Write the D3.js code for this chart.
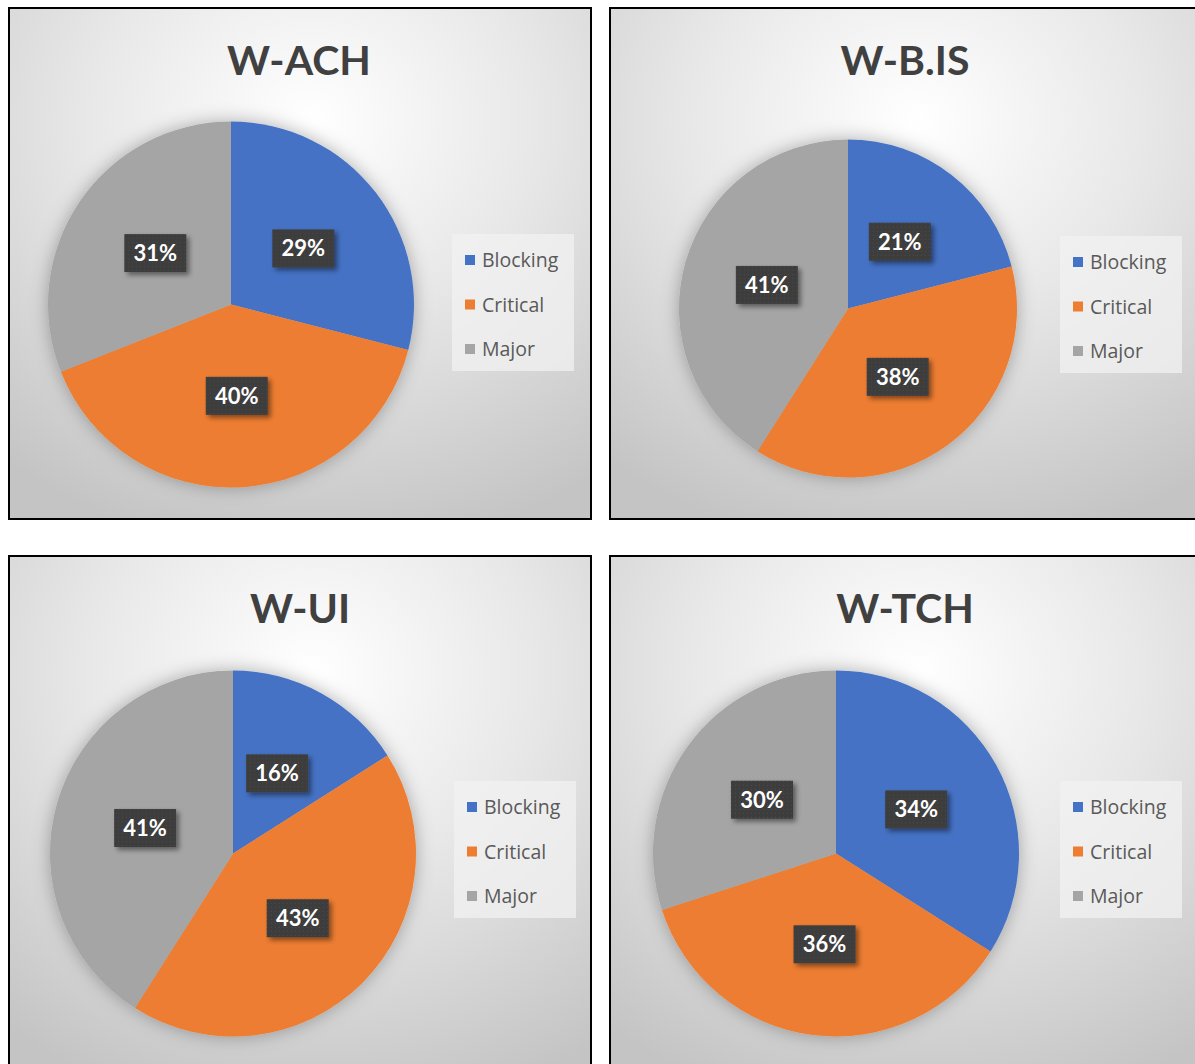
<!DOCTYPE html>
<html>
<head>
<meta charset="utf-8">
<script src="https://cdn.jsdelivr.net/npm/d3@7"></script>
<style>
  html, body { margin: 0; padding: 0; background: #ffffff; }
  svg { display: block; }
  text { font-family: Lato, "Open Sans", sans-serif; }
</style>
</head>
<body>
<svg id="chart" width="1195" height="1064"></svg>
<script>
// Defect severity split per work area
const chartTitles = ["W-ACH", "W-B.IS", "W-UI", "W-TCH"];
const categories = ["Blocking", "Critical", "Major"];
const achValues = [29, 40, 31];
const bisValues = [21, 38, 41];
const uiValues  = [16, 43, 41];
const tchValues = [34, 36, 30];
const seriesValues = [achValues, bisValues, uiValues, tchValues];
const colors = ["#4472C4", "#ED7D31", "#A5A5A5"];

// Panel frames, pie placement and legend placement
const panels = [
  { x: 9,   y: 8,   w: 582, h: 511, cx: 231, cy: 304.5, r: 183, titleX: 299, titleY: 75,  legX: 452,  legY: 234 },
  { x: 610, y: 8,   w: 590, h: 511, cx: 848, cy: 308.5, r: 169, titleX: 905, titleY: 75,  legX: 1060, legY: 236 },
  { x: 9,   y: 556, w: 582, h: 530, cx: 233, cy: 853.5, r: 183, titleX: 300, titleY: 623, legX: 454,  legY: 781 },
  { x: 610, y: 556, w: 590, h: 530, cx: 836, cy: 853.5, r: 183, titleX: 905, titleY: 623, legX: 1060, legY: 781 }
];

const svg = d3.select("#chart");
const defs = svg.append("defs");

// Radial background fill of each chart area
const bg = defs.append("radialGradient")
  .attr("id", "bgGrad")
  .attr("cx", "52%").attr("cy", "22%").attr("r", "85%")
  .attr("fx", "52%").attr("fy", "22%");
bg.append("stop").attr("offset", "0%").attr("stop-color", "#ffffff");
bg.append("stop").attr("offset", "45%").attr("stop-color", "#e8e8e8");
bg.append("stop").attr("offset", "100%").attr("stop-color", "#c4c4c4");

// Soft halo behind the pies
const pieShadow = defs.append("filter").attr("id", "pieShadow")
  .attr("x", "-20%").attr("y", "-20%").attr("width", "140%").attr("height", "140%");
pieShadow.append("feDropShadow")
  .attr("dx", 0).attr("dy", 0).attr("stdDeviation", 9)
  .attr("flood-color", "#000").attr("flood-opacity", 0.3);

// Shadow below the data label boxes
const labelShadow = defs.append("filter").attr("id", "labelShadow")
  .attr("x", "-30%").attr("y", "-30%").attr("width", "170%").attr("height", "180%");
labelShadow.append("feDropShadow")
  .attr("dx", 3).attr("dy", 3).attr("stdDeviation", 2.5)
  .attr("flood-color", "#000").attr("flood-opacity", 0.45);

// Fine dotted texture used on the label boxes
const dots = defs.append("pattern").attr("id", "dots")
  .attr("width", 4).attr("height", 4).attr("patternUnits", "userSpaceOnUse");
dots.append("rect").attr("width", 4).attr("height", 4).attr("fill", "#3c3c3c");
dots.append("rect").attr("x", 1).attr("y", 1).attr("width", 1).attr("height", 1).attr("fill", "#4d4d4d");

const color = d3.scaleOrdinal().domain(categories).range(colors);

panels.forEach((p, i) => {
  const values = seriesValues[i];
  const data = categories.map((c, k) => ({ category: c, value: values[k] }));
  const total = d3.sum(values);

  const g = svg.append("g");

  g.append("rect")
    .attr("x", p.x).attr("y", p.y).attr("width", p.w).attr("height", p.h)
    .attr("fill", "url(#bgGrad)")
    .attr("stroke", "#000").attr("stroke-width", 2);

  g.append("text")
    .attr("x", p.titleX).attr("y", p.titleY)
    .attr("text-anchor", "middle")
    .attr("font-size", 41).attr("font-weight", 700)
    .attr("fill", "#404040")
    .text(chartTitles[i]);

  const pie = d3.pie().sort(null).value(d => d.value);
  const arcs = pie(data);
  const arc = d3.arc().innerRadius(0).outerRadius(p.r);
  const labelArc = d3.arc().innerRadius(p.r * 0.5).outerRadius(p.r * 0.5);

  const pieG = g.append("g").attr("transform", `translate(${p.cx},${p.cy})`);
  pieG.append("g").attr("filter", "url(#pieShadow)")
    .selectAll("path").data(arcs).join("path")
    .attr("d", arc)
    .attr("fill", d => color(d.data.category));

  const lbl = pieG.selectAll("g.lbl").data(arcs).join("g")
    .attr("class", "lbl")
    .attr("transform", d => `translate(${labelArc.centroid(d)})`);
  lbl.append("rect")
    .attr("x", -31).attr("y", -19).attr("width", 62).attr("height", 38)
    .attr("fill", "url(#dots)")
    .attr("filter", "url(#labelShadow)");
  lbl.append("text")
    .attr("text-anchor", "middle").attr("dy", "0.36em")
    .attr("font-size", 22).attr("font-weight", 700)
    .attr("fill", "#ffffff")
    .text(d => Math.round(d.data.value / total * 100) + "%");

  const leg = g.append("g").attr("transform", `translate(${p.legX},${p.legY})`);
  leg.append("rect")
    .attr("width", 122).attr("height", 137)
    .attr("fill", "#f2f2f2").attr("fill-opacity", 0.75);
  const rowY = d3.scalePoint().domain(categories).range([26, 115]);
  const item = leg.selectAll("g.item").data(categories).join("g")
    .attr("class", "item")
    .attr("transform", c => `translate(0,${rowY(c)})`);
  item.append("rect")
    .attr("x", 13).attr("y", -5).attr("width", 10).attr("height", 10)
    .attr("fill", c => color(c));
  item.append("text")
    .attr("x", 30).attr("dy", "0.36em")
    .attr("font-size", 19.5)
    .style("font-family", "'Open Sans', sans-serif")
    .attr("fill", "#595959")
    .text(c => c);
});
</script>
</body>
</html>
